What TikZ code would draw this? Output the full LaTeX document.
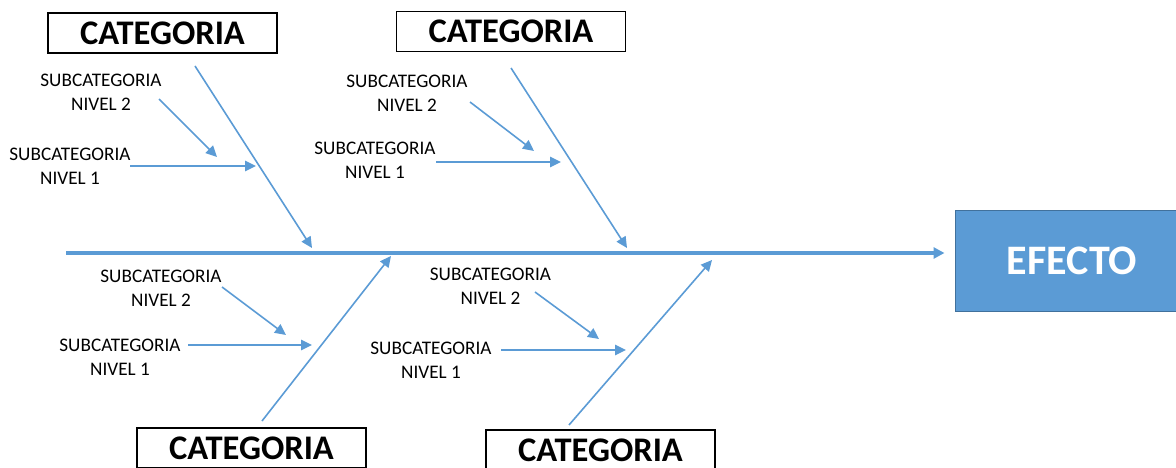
\documentclass[tikz,border=0pt]{standalone}
\usepackage{fontspec}
\setmainfont{Carlito}
\usetikzlibrary{arrows.meta}
\definecolor{fishblue}{HTML}{5B9BD5}
\definecolor{fishborder}{HTML}{41719C}
\begin{document}
\begin{tikzpicture}[x=1pt,y=-1pt,
  catbox/.style={draw=black,line width=1.3pt,minimum width=229pt,minimum height=40pt,inner sep=0pt,font=\fontsize{34.5}{40}\selectfont\bfseries},
  sublabel/.style={align=center,inner sep=0pt,font=\fontsize{19.2}{24}\selectfont},
  bone/.style={draw=fishblue,line width=1.6pt,-{Triangle[length=11pt,width=10.5pt]}},
  spine/.style={draw=fishblue,line width=3.2pt,-{Triangle[length=11pt,width=11pt]}},
  effectbox/.style={draw=fishborder,fill=fishblue,line width=1pt,minimum width=234pt,minimum height=101pt,inner sep=0pt,text=white,font=\fontsize{42}{48}\selectfont\bfseries}]
\path[use as bounding box] (0,0) rectangle (1176,468);
\clip (0,0) rectangle (1176,468);

% effect box and spine
\node[effectbox] (efecto) at (1072,260.5) {EFECTO};
\coordinate (spinestart) at (66,253);
\draw[spine,shorten >=10pt] (spinestart) -- (spinestart -| efecto.west);

% category boxes
\node[catbox] (catTL) at (162.5,33) {CATEGORIA};
\node[catbox] (catTR) at (511,31.5) {CATEGORIA};
\node[catbox] (catBL) at (251.5,448) {CATEGORIA};
\node[catbox] (catBR) at (600.5,450) {CATEGORIA};

% subcategory labels
\node[sublabel] (tl2) at (101,92) {SUBCATEGORIA\\NIVEL 2};
\node[sublabel] (tl1) at (70,166.5) {SUBCATEGORIA\\NIVEL 1};
\node[sublabel] (tr2) at (407,93) {SUBCATEGORIA\\NIVEL 2};
\node[sublabel] (tr1) at (375,160) {SUBCATEGORIA\\NIVEL 1};
\node[sublabel] (bl2) at (161,288) {SUBCATEGORIA\\NIVEL 2};
\node[sublabel] (bl1) at (120,357) {SUBCATEGORIA\\NIVEL 1};
\node[sublabel] (br2) at (490.5,286.5) {SUBCATEGORIA\\NIVEL 2};
\node[sublabel] (br1) at (431,360.5) {SUBCATEGORIA\\NIVEL 1};

% rib coordinates
\coordinate (ribTLs) at (195,66);  \coordinate (ribTLe) at (312,248);
\coordinate (ribTRs) at (511,68);  \coordinate (ribTRe) at (627,248);
\coordinate (ribBLs) at (262,421); \coordinate (ribBLe) at (391,256);
\coordinate (ribBRs) at (569,425); \coordinate (ribBRe) at (712,260);

\draw[bone] (ribTLs) -- (ribTLe);
\draw[bone] (ribTRs) -- (ribTRe);
\draw[bone] (ribBLs) -- (ribBLe);
\draw[bone] (ribBRs) -- (ribBRe);

% sub arrows
\coordinate (tl2s) at (159,99);  \coordinate (tl2e) at (217,157);
\coordinate (tl1s) at (130,166); \coordinate (tl1e) at (256,166);
\coordinate (tr2s) at (470,102); \coordinate (tr2e) at (534,151);
\coordinate (tr1s) at (436,162); \coordinate (tr1e) at (561,162);
\coordinate (bl2s) at (222,287); \coordinate (bl2e) at (286,335);
\coordinate (bl1s) at (188,345); \coordinate (bl1e) at (312,345);
\coordinate (br2s) at (535,292); \coordinate (br2e) at (599,339);
\coordinate (br1s) at (501,350); \coordinate (br1e) at (626,350);

\draw[bone] (tl2s) -- (tl2e);
\draw[bone] (tl1s) -- (tl1e);
\draw[bone] (tr2s) -- (tr2e);
\draw[bone] (tr1s) -- (tr1e);
\draw[bone] (bl2s) -- (bl2e);
\draw[bone] (bl1s) -- (bl1e);
\draw[bone] (br2s) -- (br2e);
\draw[bone] (br1s) -- (br1e);
\end{tikzpicture}
\end{document}
